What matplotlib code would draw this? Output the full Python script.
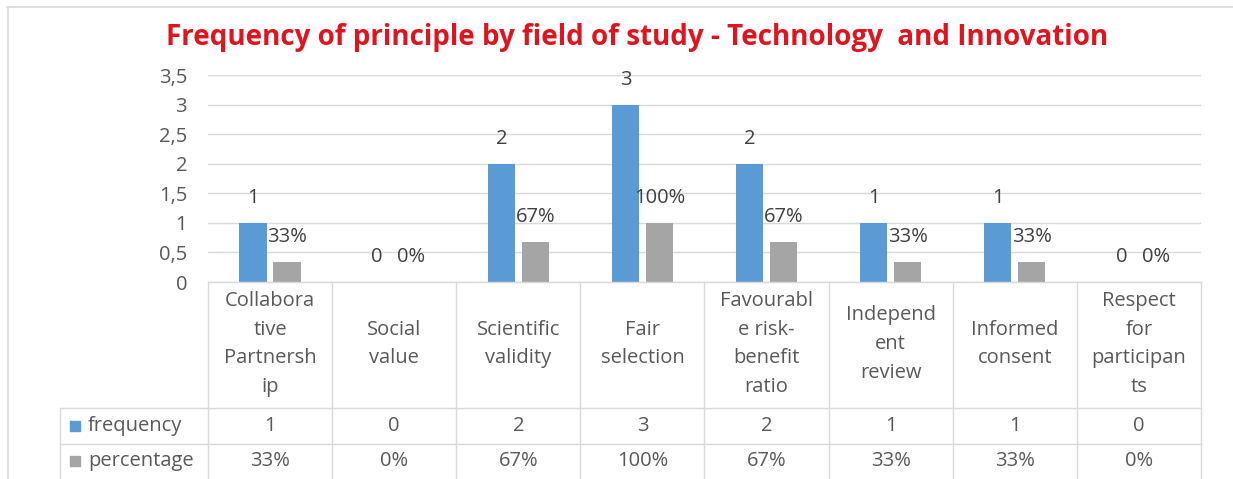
import matplotlib.pyplot as plt
import numpy as np
from matplotlib.lines import Line2D
from matplotlib.patches import Rectangle
import matplotlib.ticker as ticker

categories = ['Collabora\ntive\nPartnersh\nip', 'Social\nvalue', 'Scientific\nvalidity',
              'Fair\nselection', 'Favourabl\ne risk-\nbenefit\nratio', 'Independ\nent\nreview',
              'Informed\nconsent', 'Respect\nfor\nparticipan\nts']
frequency = [1, 0, 2, 3, 2, 1, 1, 0]
percentage = [0.33, 0, 0.67, 1.0, 0.67, 0.33, 0.33, 0]
series_names = ['frequency', 'percentage']
yticks = [0, 0.5, 1, 1.5, 2, 2.5, 3, 3.5]

BLUE = '#5B9BD5'
GRAY = '#A5A5A5'
TXT = '#595959'
LINE = '#D9D9D9'
FS = 14.5
plt.rcParams['font.family'] = ['Open Sans', 'DejaVu Sans']

W, H = 1233, 479
fig = plt.figure(figsize=(W / 100, H / 100), dpi=100)

def px(x):
    return x / W

def py(y):
    return 1 - y / H

# plot area in pixel coords
L, R, T, B = 208, 1201, 75, 282
ax = fig.add_axes([px(L), py(B), px(R) - px(L), py(T) - py(B)])

n = len(categories)
x = np.arange(n)
bw = 0.22
off = 0.137
ax.bar(x - off, frequency, bw, color=BLUE, zorder=3)
ax.bar(x + off, percentage, bw, color=GRAY, zorder=3)

ax.set_xlim(-0.5, n - 0.5)
ax.set_ylim(0, 3.5)
ax.set_yticks(yticks)
ax.yaxis.set_major_formatter(ticker.FuncFormatter(lambda v, p: ('%g' % v).replace('.', ',')))
ax.tick_params(axis='y', length=0, labelsize=FS, labelcolor=TXT, pad=15)
ax.set_xticks([])
ax.grid(axis='y', color=LINE, linewidth=1, zorder=0)
for s in ax.spines.values():
    s.set_visible(False)

# data labels (about 25 px above bar tops)
lab_off = 25 / (B - T) * 3.5
for i in range(n):
    ax.text(x[i] - off, frequency[i] + lab_off, '%d' % frequency[i], ha='center', va='center',
            fontsize=FS, color='#404040')
    ax.text(x[i] + off, percentage[i] + lab_off, '%d%%' % round(percentage[i] * 100),
            ha='center', va='center', fontsize=FS, color='#404040')

# title
fig.text(px(637), py(37), 'Frequency of principle by field of study - Technology  and Innovation',
         ha='center', va='center', fontsize=20, fontweight='bold', color='#E0141E')

# outer frame (top and left)
fig.add_artist(Line2D([px(7), px(W)], [py(7), py(7)], color=LINE, lw=1.2))
fig.add_artist(Line2D([px(8), px(8)], [py(7), py(H)], color=LINE, lw=1.2))

# data table
colw = (R - L) / n
row1, row2, row3 = 408, 444, 480
tl = dict(color=LINE, lw=1)
fig.add_artist(Line2D([px(L), px(R)], [py(B), py(B)], **tl))
for k in range(n + 1):
    xx = L + k * colw
    fig.add_artist(Line2D([px(xx), px(xx)], [py(B), py(row3)], **tl))
fig.add_artist(Line2D([px(60), px(60)], [py(row1), py(row3)], **tl))
for yy in (row1, row2):
    fig.add_artist(Line2D([px(60), px(R)], [py(yy), py(yy)], **tl))

for i, c in enumerate(categories):
    cx = L + (i + 0.5) * colw
    fig.text(px(cx), py((B + row1) / 2 - 1), c, ha='center', va='center', fontsize=FS,
             color=TXT, linespacing=1.58)
    fig.text(px(cx), py((row1 + row2) / 2), '%d' % frequency[i], ha='center', va='center',
             fontsize=FS, color=TXT)
    fig.text(px(cx), py((row2 + row3) / 2 - 1), '%d%%' % round(percentage[i] * 100),
             ha='center', va='center', fontsize=FS, color=TXT)

for name, col, yy in zip(series_names, [BLUE, GRAY], [(row1 + row2) / 2, (row2 + row3) / 2 - 1]):
    fig.add_artist(Rectangle((px(70), py(yy + 5)), px(10), 10 / H, color=col))
    fig.text(px(88), py(yy), name, ha='left', va='center', fontsize=FS, color=TXT)

fig.savefig('out.png', dpi=100)
